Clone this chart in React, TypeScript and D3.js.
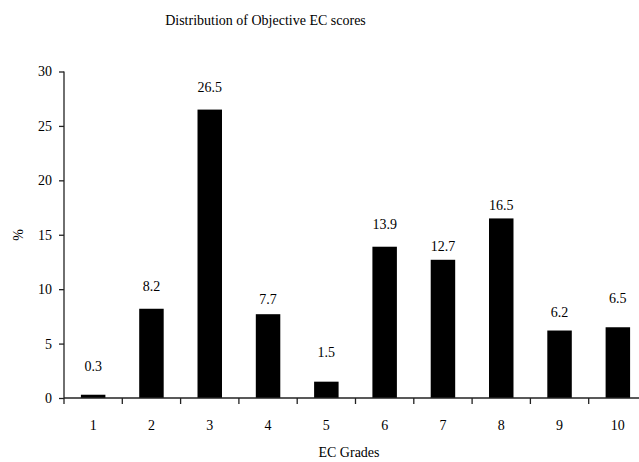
import { useEffect, useRef } from 'react';
import * as d3 from 'd3';

const grades = ['1', '2', '3', '4', '5', '6', '7', '8', '9', '10'];
const percents = [0.3, 8.2, 26.5, 7.7, 1.5, 13.9, 12.7, 16.5, 6.2, 6.5];
const yTicks = [0, 5, 10, 15, 20, 25, 30];

// label gap above each bar (px), as placed in the original
const labelGap = [29, 23, 23, 15, 30, 23, 14, 13, 19, 29];

export default function App() {
  const ref = useRef<SVGSVGElement>(null);

  useEffect(() => {
    if (!ref.current) return;
    const svg = d3.select(ref.current);
    svg.selectAll('*').remove();

    const width = 639;
    const height = 462;
    const left = 64;
    const right = 647;
    const top = 71.5;
    const bottom = 398;
    const font = '"Liberation Serif", "Times New Roman", serif';

    const x = d3.scaleBand().domain(grades).range([left, right]).paddingInner(0.58).paddingOuter(0.29);
    const y = d3.scaleLinear().domain([0, 30]).range([bottom, top]);

    svg.attr('width', width).attr('height', height);

    // title
    svg.append('text')
      .attr('x', 265.5)
      .attr('y', 25)
      .attr('text-anchor', 'middle')
      .attr('font-family', font)
      .attr('font-size', 14)
      .text('Distribution of Objective EC scores');

    // bars
    svg.selectAll('rect.bar')
      .data(percents)
      .enter()
      .append('rect')
      .attr('class', 'bar')
      .attr('x', (_, i) => x(grades[i]) ?? 0)
      .attr('y', (d) => y(d))
      .attr('width', x.bandwidth())
      .attr('height', (d) => bottom - y(d))
      .attr('fill', '#000');

    // value labels
    svg.selectAll('text.val')
      .data(percents)
      .enter()
      .append('text')
      .attr('class', 'val')
      .attr('x', (_, i) => (x(grades[i]) ?? 0) + x.bandwidth() / 2)
      .attr('y', (d, i) => y(d) - labelGap[i] + 5)
      .attr('text-anchor', 'middle')
      .attr('font-family', font)
      .attr('font-size', 14)
      .text((d) => d.toFixed(1));

    // y axis
    const yAxis = svg.append('g').attr('transform', `translate(${left},0)`)
      .call(d3.axisLeft(y).tickValues(yTicks).tickSize(5).tickPadding(7).tickFormat(d3.format('d')));
    yAxis.select('.domain').attr('stroke', '#222').attr('stroke-width', 1.3).attr('d', `M0,${top}V${bottom}`);
    yAxis.selectAll('.tick line').attr('stroke', '#222').attr('stroke-width', 1.3);
    yAxis.selectAll('.tick text').attr('font-family', font).attr('font-size', 14).attr('fill', '#000');

    // x axis
    const step = x.step();
    const xBase = svg.append('g');
    xBase.append('line')
      .attr('x1', left).attr('x2', right)
      .attr('y1', bottom).attr('y2', bottom)
      .attr('stroke', '#222').attr('stroke-width', 1.3);
    xBase.selectAll('line.xt')
      .data(d3.range(grades.length + 1))
      .enter()
      .append('line')
      .attr('class', 'xt')
      .attr('x1', (i) => left + i * step)
      .attr('x2', (i) => left + i * step)
      .attr('y1', bottom)
      .attr('y2', bottom + 6)
      .attr('stroke', '#222')
      .attr('stroke-width', 1.3);
    xBase.selectAll('text.xl')
      .data(grades)
      .enter()
      .append('text')
      .attr('class', 'xl')
      .attr('x', (d) => (x(d) ?? 0) + x.bandwidth() / 2)
      .attr('y', 430)
      .attr('text-anchor', 'middle')
      .attr('font-family', font)
      .attr('font-size', 14)
      .text((d) => d);

    // axis titles
    svg.append('text')
      .attr('x', 349)
      .attr('y', 457)
      .attr('text-anchor', 'middle')
      .attr('font-family', font)
      .attr('font-size', 14)
      .text('EC Grades');

    svg.append('text')
      .attr('transform', `translate(23,235) rotate(-90)`)
      .attr('text-anchor', 'middle')
      .attr('font-family', font)
      .attr('font-size', 14)
      .text('%');
  }, []);

  return <svg ref={ref} style={{ position: 'absolute', left: 0, top: 0 }} />;
}
